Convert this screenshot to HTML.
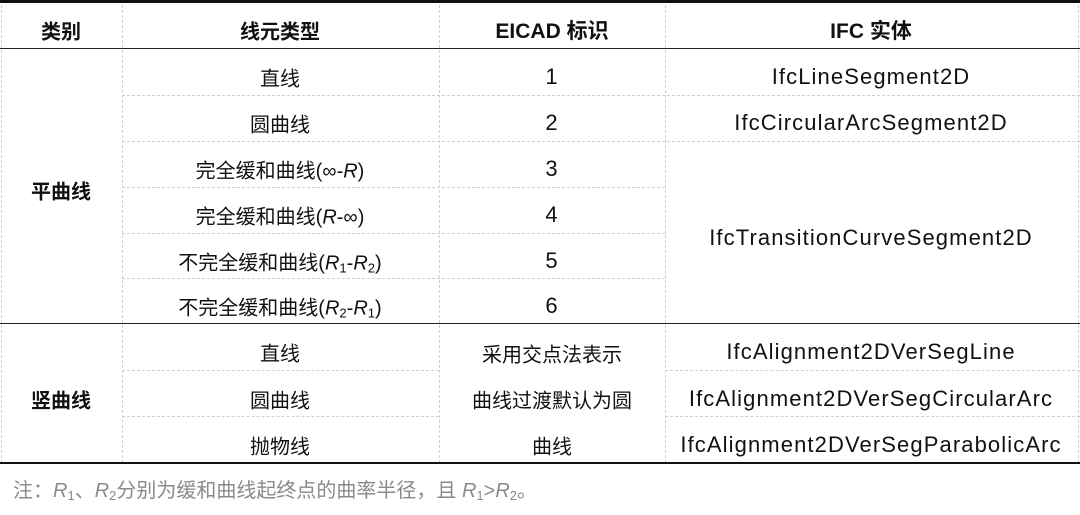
<!DOCTYPE html>
<html><head><meta charset="utf-8"><style>
body{margin:0;width:1080px;height:515px;background:#fff;position:relative;overflow:hidden;font-family:"Liberation Sans","Noto Sans CJK SC",sans-serif;color:#111}
.h{position:absolute;height:0}
.v{position:absolute;width:0;top:0;height:463px;border-left:1px dashed #d0d0d0}
.t{position:absolute;transform:translate(-50%,-50%);white-space:nowrap;font-size:20px}
.l{font-size:22px;letter-spacing:1.1px}
.b{font-weight:bold}
i{font-style:italic}
sub{font-size:13px;vertical-align:-3px;line-height:0}
</style></head><body>
<div class="v" style="left:1px"></div>
<div class="v" style="left:122px"></div>
<div class="v" style="left:439px"></div>
<div class="v" style="left:665px"></div>
<div class="v" style="left:1078px"></div>
<div class="h" style="left:0;width:1080px;top:0;border-top:3px solid #111"></div>
<div class="h" style="left:0;width:1080px;top:48px;border-top:1.5px solid #222"></div>
<div class="h" style="left:0;width:1080px;top:323px;border-top:1.5px solid #222"></div>
<div class="h" style="left:0;width:1080px;top:462px;border-top:2.5px solid #111"></div>
<div class="h" style="left:122px;width:958px;top:95px;border-top:1px dashed #d0d0d0"></div>
<div class="h" style="left:122px;width:958px;top:141px;border-top:1px dashed #d0d0d0"></div>
<div class="h" style="left:122px;width:543px;top:187px;border-top:1px dashed #d0d0d0"></div>
<div class="h" style="left:122px;width:543px;top:233px;border-top:1px dashed #d0d0d0"></div>
<div class="h" style="left:122px;width:543px;top:278px;border-top:1px dashed #d0d0d0"></div>
<div class="h" style="left:122px;width:317px;top:370px;border-top:1px dashed #d0d0d0"></div>
<div class="h" style="left:122px;width:317px;top:416px;border-top:1px dashed #d0d0d0"></div>
<div class="h" style="left:665px;width:415px;top:370px;border-top:1px dashed #d0d0d0"></div>
<div class="h" style="left:665px;width:415px;top:416px;border-top:1px dashed #d0d0d0"></div>
<div class="t b" style="left:61px;top:30px">类别</div>
<div class="t b" style="left:280px;top:30px">线元类型</div>
<div class="t b" style="left:552px;top:30px;font-size:21px">EICAD 标识</div>
<div class="t b" style="left:871px;top:30px;font-size:21px">IFC 实体</div>
<div class="t b" style="left:61px;top:190px">平曲线</div>
<div class="t b" style="left:61px;top:399px">竖曲线</div>
<div class="t" style="left:280px;top:77px">直线</div>
<div class="t" style="left:280px;top:123px">圆曲线</div>
<div class="t" style="left:280px;top:169px">完全缓和曲线(∞-<i>R</i>)</div>
<div class="t" style="left:280px;top:215px">完全缓和曲线(<i>R</i>-∞)</div>
<div class="t" style="left:280px;top:261px">不完全缓和曲线(<i>R</i><sub>1</sub>-<i>R</i><sub>2</sub>)</div>
<div class="t" style="left:280px;top:306px">不完全缓和曲线(<i>R</i><sub>2</sub>-<i>R</i><sub>1</sub>)</div>
<div class="t" style="left:280px;top:352px">直线</div>
<div class="t" style="left:280px;top:399px">圆曲线</div>
<div class="t" style="left:280px;top:445px">抛物线</div>
<div class="t l" style="left:552px;top:77px">1</div>
<div class="t l" style="left:552px;top:123px">2</div>
<div class="t l" style="left:552px;top:169px">3</div>
<div class="t l" style="left:552px;top:215px">4</div>
<div class="t l" style="left:552px;top:261px">5</div>
<div class="t l" style="left:552px;top:306px">6</div>
<div class="t" style="left:552px;top:353px">采用交点法表示</div>
<div class="t" style="left:552px;top:399px">曲线过渡默认为圆</div>
<div class="t" style="left:552px;top:445px">曲线</div>
<div class="t l" style="left:871px;top:77px">IfcLineSegment2D</div>
<div class="t l" style="left:871px;top:123px">IfcCircularArcSegment2D</div>
<div class="t l" style="left:871px;top:238px">IfcTransitionCurveSegment2D</div>
<div class="t l" style="left:871px;top:352px">IfcAlignment2DVerSegLine</div>
<div class="t l" style="left:871px;top:399px">IfcAlignment2DVerSegCircularArc</div>
<div class="t l" style="left:871px;top:445px">IfcAlignment2DVerSegParabolicArc</div>
<div style="position:absolute;left:13px;top:474px;font-size:20px;color:#8a8a8a;white-space:nowrap">注：<i>R</i><sub>1</sub>、<i>R</i><sub>2</sub>分别为缓和曲线起终点的曲率半径，且 <i>R</i><sub>1</sub>&gt;<i>R</i><sub>2</sub>。</div>
</body></html>
